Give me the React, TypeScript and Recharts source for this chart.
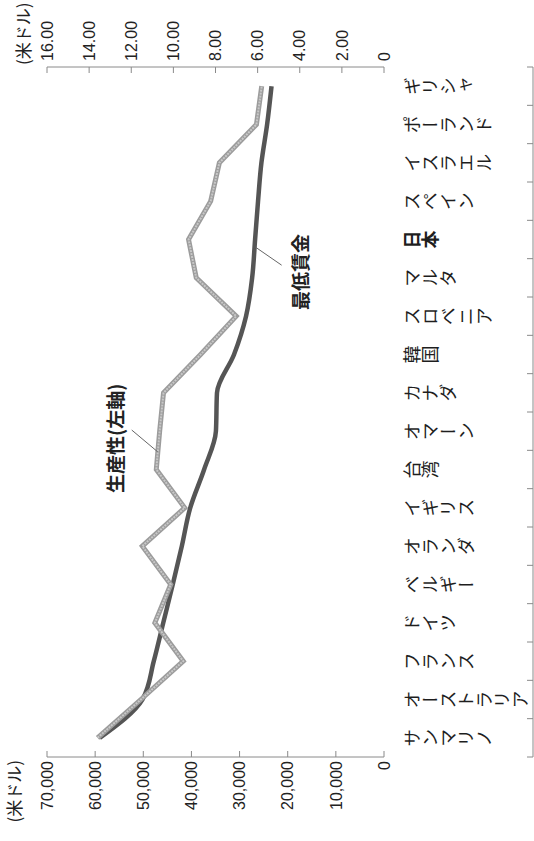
import React from 'react';
import { LineChart, Line, XAxis, YAxis, ReferenceLine, ReferenceDot, Label } from 'recharts';

// Categories (left → right in the unrotated chart; bottom → top on the page)
const categories = [
  'サンマリノ', 'オーストラリア', 'フランス', 'ドイツ', 'ベルギー', 'オランダ', 'イギリス', '台湾', 'オマーン',
  'カナダ', '韓国', 'スロベニア', 'マルタ', '日本', 'スペイン', 'イスラエル', 'ポーランド', 'ギリシャ',
];
// 生産性 (左軸, 米ドル)
const productivity = [
  59500, 50500, 41700, 47600, 44300, 50200, 41400, 47300, 46600,
  45800, 38100, 30700, 39000, 40600, 36000, 34200, 26500, 25400,
];
// 最低賃金 (右軸, 米ドル)
const minimumWage = [
  13.5, 11.47, 10.93, 10.48, 10.03, 9.6, 9.2, 8.54, 7.98,
  7.93, 7.12, 6.55, 6.26, 6.12, 5.98, 5.82, 5.55, 5.34,
];
const leftTicks = [0, 10000, 20000, 30000, 40000, 50000, 60000, 70000];
const rightTicks = [0, 2, 4, 6, 8, 10, 12, 14, 16];
const unitLabel = '(米ドル)';
const productivityLabel = '生産性(左軸)';
const wageLabel = '最低賃金';

const data = categories.map((name, i) => ({
  name,
  pos: i + 0.5,
  productivity: productivity[i],
  wage: minimumWage[i],
}));
const boundaryTicks = categories.map((_, i) => i).concat([categories.length]);
const centerTicks = categories.map((_, i) => i + 0.5);

const CW = 841;
const CH = 534;
const NUM_FONT = '"Liberation Sans", Arial, "Noto Sans CJK JP", sans-serif';
const JP_FONT = '"Noto Sans CJK JP", "Noto Sans CJK SC", sans-serif';
const AXIS = '#8a8a8a';
const TICK_LEN = 6;
const LEFT_MARGIN = 4;
const RIGHT_MARGIN = 6;

const fmtLeft = (v: number) => v.toLocaleString('en-US');
const fmtRight = (v: number) => (v === 0 ? '0' : v.toFixed(2));

const LeftTick = (props: any) => {
  const { x, y, payload } = props;
  const ax = x + LEFT_MARGIN;
  return (
    <g>
      <line x1={ax} x2={ax + TICK_LEN} y1={y} y2={y} stroke={AXIS} strokeWidth={1} />
      <text x={x} y={y} dy="0.355em" textAnchor="end" fill="#222" fontSize={16} fontFamily={NUM_FONT}>
        {fmtLeft(payload.value)}
      </text>
    </g>
  );
};

const RightTick = (props: any) => {
  const { x, y, payload } = props;
  const ax = x - RIGHT_MARGIN;
  return (
    <g>
      <line x1={ax} x2={ax - TICK_LEN} y1={y} y2={y} stroke={AXIS} strokeWidth={1} />
      <text x={x} y={y} dy="0.355em" textAnchor="start" fill="#222" fontSize={16} fontFamily={NUM_FONT}>
        {fmtRight(payload.value)}
      </text>
    </g>
  );
};

const BoundaryTick = (props: any) => {
  const { x, y } = props;
  return <line x1={x} x2={x} y1={y} y2={y - TICK_LEN} stroke={AXIS} strokeWidth={1} />;
};

const CategoryTick = (props: any) => {
  const { x, y, payload } = props;
  const name = categories[Math.floor(payload.value)];
  return (
    <text
      x={x}
      y={y + 11}
      fill="#1e1e1e"
      fontSize={18}
      fontFamily={JP_FONT}
      fontWeight={name === '日本' ? 700 : 400}
      style={{ writingMode: 'vertical-rl' } as any}
    >
      {name}
    </text>
  );
};

const AnnText = (text: string) => (props: any) => (
  <text x={props.cx} y={props.cy} fill="#222" fontSize={19} fontWeight={700} fontFamily={JP_FONT}>
    {text}
  </text>
);

export default function App() {
  return (
    <div style={{ position: 'fixed', left: 0, top: 0, width: 534, height: 841, overflow: 'hidden', background: '#fff' }}>
      <div
        style={{
          position: 'absolute',
          left: 0,
          top: 0,
          width: CW,
          height: CH,
          transformOrigin: '0 0',
          transform: `translate(0px, ${CW}px) rotate(-90deg)`,
        }}
      >
        <LineChart width={CW} height={CH} data={data} margin={{ top: 47, right: 0, bottom: 0, left: 0 }}>
          <XAxis
            xAxisId="x"
            type="number"
            dataKey="pos"
            domain={[0, categories.length]}
            ticks={boundaryTicks}
            interval={0}
            tickSize={0}
            tickMargin={0}
            tick={<BoundaryTick />}
            axisLine={{ stroke: AXIS }}
            tickLine={false}
            height={1}
          />
          <XAxis
            xAxisId="cat"
            type="number"
            dataKey="pos"
            domain={[0, categories.length]}
            ticks={centerTicks}
            interval={0}
            tick={<CategoryTick />}
            axisLine={false}
            tickLine={false}
            height={149}
          />
          <XAxis
            xAxisId="top"
            orientation="top"
            type="number"
            dataKey="pos"
            domain={[0, categories.length]}
            tick={false}
            tickLine={false}
            axisLine={{ stroke: AXIS }}
            height={0}
          />
          <YAxis
            yAxisId="left"
            orientation="left"
            type="number"
            domain={[0, 70000]}
            ticks={leftTicks}
            interval={0}
            width={84}
            tickSize={0}
            tickMargin={LEFT_MARGIN}
            tick={<LeftTick />}
            axisLine={{ stroke: AXIS }}
            tickLine={false}
          >
            <Label
              content={(p: any) => (
                <text
                  x={p.viewBox.x + p.viewBox.width - 3}
                  y={p.viewBox.y - 26}
                  textAnchor="end"
                  fill="#222"
                  fontSize={17}
                  fontFamily={JP_FONT}
                >
                  {unitLabel}
                </text>
              )}
            />
          </YAxis>
          <YAxis
            yAxisId="right"
            orientation="right"
            type="number"
            domain={[0, 16]}
            ticks={rightTicks}
            interval={0}
            width={67}
            tickSize={0}
            tickMargin={RIGHT_MARGIN}
            tick={<RightTick />}
            axisLine={{ stroke: AXIS }}
            tickLine={false}
          >
            <Label
              content={(p: any) => (
                <text
                  x={p.viewBox.x + 2}
                  y={p.viewBox.y - 17}
                  textAnchor="start"
                  fill="#222"
                  fontSize={17}
                  fontFamily={JP_FONT}
                >
                  {unitLabel}
                </text>
              )}
            />
          </YAxis>
          <Line
            xAxisId="x"
            yAxisId="right"
            dataKey="wage"
            type="monotone"
            stroke="#555555"
            strokeWidth={4.5}
            dot={false}
            isAnimationActive={false}
          />
          <Line
            xAxisId="x"
            yAxisId="left"
            dataKey="productivity"
            type="linear"
            stroke="#9c9c9c"
            strokeWidth={5}
            dot={false}
            isAnimationActive={false}
          />
          <Line
            xAxisId="x"
            yAxisId="left"
            dataKey="productivity"
            type="linear"
            stroke="#c8c8c8"
            strokeWidth={2}
            strokeDasharray="2 1"
            dot={false}
            isAnimationActive={false}
          />
          <ReferenceLine
            xAxisId="x"
            yAxisId="left"
            segment={[{ x: 8.53, y: 52400 }, { x: 7.96, y: 47000 }]}
            stroke="#666"
            strokeWidth={1}
          />
          <ReferenceLine
            xAxisId="x"
            yAxisId="right"
            segment={[{ x: 13.3, y: 6.1 }, { x: 12.83, y: 4.86 }]}
            stroke="#666"
            strokeWidth={1}
          />
          <ReferenceDot
            xAxisId="x"
            yAxisId="left"
            x={6.89}
            y={54300}
            r={0}
            ifOverflow="visible"
            shape={AnnText(productivityLabel)}
          />
          <ReferenceDot
            xAxisId="x"
            yAxisId="right"
            x={11.66}
            y={3.6}
            r={0}
            ifOverflow="visible"
            shape={AnnText(wageLabel)}
          />
        </LineChart>
      </div>
    </div>
  );
}
